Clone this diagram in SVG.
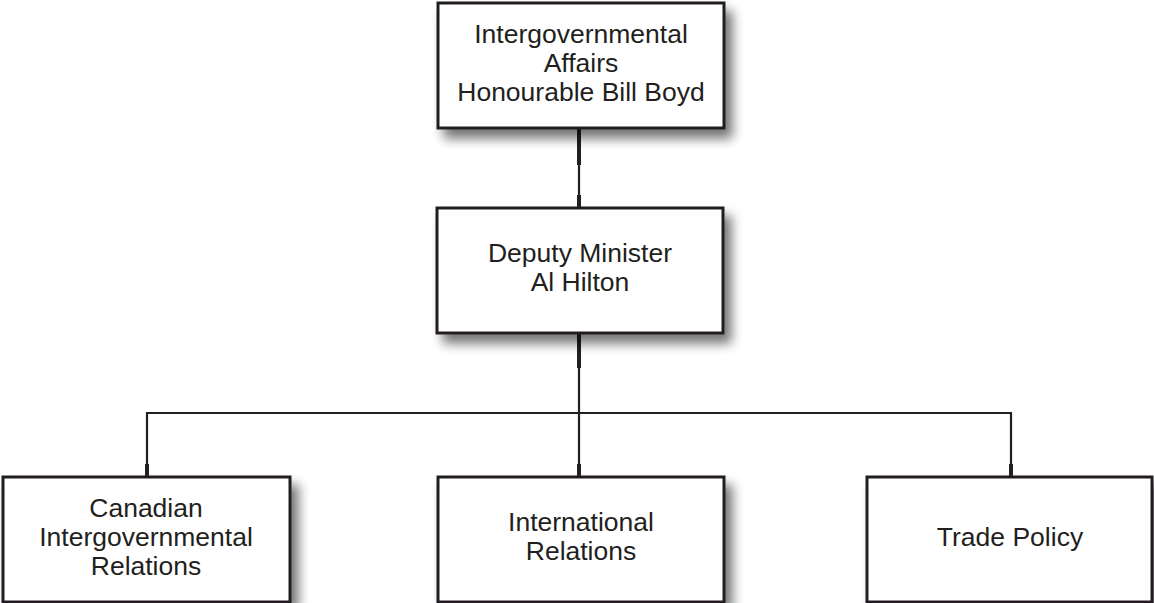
<svg xmlns="http://www.w3.org/2000/svg" width="1154" height="603" viewBox="0 0 1154 603">
<defs>
<filter id="sh" x="-10%" y="-10%" width="130%" height="140%">
<feGaussianBlur in="SourceAlpha" stdDeviation="6"/>
<feOffset dx="7" dy="9" result="b"/>
<feComponentTransfer><feFuncA type="linear" slope="0.55"/></feComponentTransfer>
<feMerge><feMergeNode/><feMergeNode in="SourceGraphic"/></feMerge>
</filter>
</defs>
<style>
.box{fill:#fff;stroke:#231f20;stroke-width:3;filter:url(#sh)}
.t{font-family:"Liberation Sans",Arial,sans-serif;font-size:26.5px;fill:#231f20;text-anchor:middle}
.c{stroke:#231f20;stroke-width:2.2;fill:none}
.s{stroke:#231f20;stroke-width:4;fill:none}
</style>
<rect width="1154" height="603" fill="#fff"/>
<g id="connectors">
<line class="c" x1="579" y1="128" x2="579" y2="208"/>
<line class="s" x1="579" y1="128" x2="579" y2="165"/>
<line class="s" x1="579" y1="195" x2="579" y2="208"/>
<line class="c" x1="579" y1="333" x2="579" y2="413"/>
<line class="s" x1="579" y1="333" x2="579" y2="368"/>
<polyline class="c" points="147,477 147,413 1011,413 1011,477"/>
<line class="c" x1="579" y1="413" x2="579" y2="477"/>
<line class="s" x1="147" y1="464" x2="147" y2="477"/>
<line class="s" x1="579" y1="464" x2="579" y2="477"/>
<line class="s" x1="1011" y1="464" x2="1011" y2="477"/>
</g>
<g id="minister">
<rect class="box" x="438" y="3" width="286" height="125"/>
<text class="t" x="581" y="43">Intergovernmental</text>
<text class="t" x="581" y="72">Affairs</text>
<text class="t" x="581" y="101">Honourable Bill Boyd</text>
</g>
<g id="deputy">
<rect class="box" x="437" y="208" width="286" height="125"/>
<text class="t" x="580" y="262">Deputy Minister</text>
<text class="t" x="580" y="291">Al Hilton</text>
</g>
<g id="canadian">
<rect class="box" x="3" y="477" width="287" height="125"/>
<text class="t" x="146" y="517">Canadian</text>
<text class="t" x="146" y="546">Intergovernmental</text>
<text class="t" x="146" y="575">Relations</text>
</g>
<g id="international">
<rect class="box" x="438" y="477" width="286" height="125"/>
<text class="t" x="581" y="531">International</text>
<text class="t" x="581" y="560">Relations</text>
</g>
<g id="trade">
<rect class="box" x="867" y="477" width="285" height="125"/>
<text class="t" x="1010" y="546">Trade Policy</text>
</g>
</svg>
